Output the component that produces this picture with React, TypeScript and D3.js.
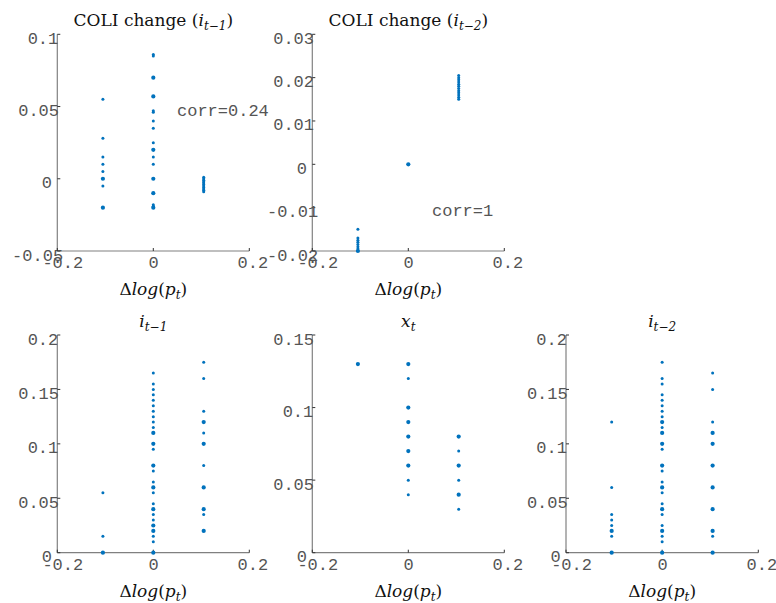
import React from "react";
import * as d3 from "d3";

// x positions of the three price-change groups
const X_COLS = [-0.105, 0, 0.105];
const X_TICKS = [-0.2, 0, 0.2];
const X_TICK_LABELS = ["-0.2", "0", "0.2"];

// Panel 1: COLI change (i_{t-1})
const P1_NEG = [0.055, 0.028, 0.015, 0.01, 0.005, 0, 0, -0.005, -0.02, -0.02];
const P1_ZERO = [0.085, 0.086, 0.07, 0.07, 0.057, 0.057, 0.046, 0.047, 0.04, 0.035, 0.025, 0.02, 0.02, 0.015, 0.01, 0, 0, -0.01, -0.01, -0.018, -0.019, -0.02, -0.02];
const P1_POS = [0.001, 0, -0.001, -0.002, -0.003, -0.004, -0.005, -0.006, -0.007, -0.008, -0.009];
const P1_TICKS = [-0.05, 0, 0.05, 0.1];
const P1_TICK_LABELS = ["-0.05", "0", "0.05", "0.1"];

// Panel 2: COLI change (i_{t-2})
const P2_NEG = [-0.015, -0.017, -0.0175, -0.018, -0.0185, -0.019, -0.0195, -0.02, -0.02];
const P2_ZERO = [0, 0, 0];
const P2_POS = [0.0205, 0.02, 0.0195, 0.019, 0.0185, 0.018, 0.0175, 0.017, 0.0165, 0.016, 0.0155, 0.015];
const P2_TICKS = [-0.02, -0.01, 0, 0.01, 0.02, 0.03];
const P2_TICK_LABELS = ["-0.02", "-0.01", "0", "0.01", "0.02", "0.03"];

// Panel 3: i_{t-1}
const P3_NEG = [0.055, 0.015, 0, 0];
const P3_ZERO = [0.165, 0.155, 0.15, 0.145, 0.14, 0.135, 0.13, 0.125, 0.12, 0.115, 0.11, 0.11, 0.1, 0.1, 0.095, 0.08, 0.08, 0.075, 0.065, 0.06, 0.06, 0.055, 0.045, 0.04, 0.04, 0.035, 0.03, 0.025, 0.025, 0.02, 0.02, 0.015, 0.01, 0, 0];
const P3_POS = [0.175, 0.16, 0.13, 0.12, 0.12, 0.11, 0.1, 0.1, 0.08, 0.06, 0.06, 0.04, 0.04, 0.035, 0.02, 0.02];
const P3_TICKS = [0, 0.05, 0.1, 0.15, 0.2];
const P3_TICK_LABELS = ["0", "0.05", "0.1", "0.15", "0.2"];

// Panel 4: x_t
const P4_NEG = [0.13, 0.13];
const P4_ZERO = [0.13, 0.13, 0.12, 0.1, 0.1, 0.09, 0.09, 0.08, 0.08, 0.07, 0.07, 0.06, 0.06, 0.05, 0.04];
const P4_POS = [0.08, 0.08, 0.07, 0.06, 0.06, 0.05, 0.04, 0.04, 0.03];
const P4_TICKS = [0, 0.05, 0.1, 0.15];
const P4_TICK_LABELS = ["0", "0.05", "0.1", "0.15"];

// Panel 5: i_{t-2}
const P5_NEG = [0.12, 0.06, 0.035, 0.03, 0.025, 0.02, 0.02, 0.015, 0, 0];
const P5_ZERO = [0.175, 0.16, 0.155, 0.145, 0.14, 0.135, 0.13, 0.125, 0.12, 0.12, 0.115, 0.11, 0.11, 0.1, 0.1, 0.095, 0.08, 0.08, 0.075, 0.065, 0.06, 0.06, 0.055, 0.045, 0.04, 0.04, 0.035, 0.025, 0.02, 0.02, 0.015, 0.01, 0, 0];
const P5_POS = [0.165, 0.15, 0.12, 0.11, 0.11, 0.1, 0.1, 0.08, 0.08, 0.06, 0.06, 0.04, 0.04, 0.02, 0.02, 0.015, 0, 0];
const P5_TICKS = [0, 0.05, 0.1, 0.15, 0.2];
const P5_TICK_LABELS = ["0", "0.05", "0.1", "0.15", "0.2"];

const DOT = "#0072BD";
const AXIS = "#808080";
const TXT = "#555555";
const MONO = "'Liberation Mono', 'DejaVu Sans Mono', monospace";
const SERIF = "'DejaVu Serif', 'Liberation Serif', serif";

// approximate proportional (Helvetica) widths used by the original label placement
const HW: Record<string, number> = { ".": 0.278, "-": 0.36 };
const helvWidth = (s: string, size = 17) =>
  s.split("").reduce((a, c) => a + (HW[c] ?? 0.556), 0) * size;

type PanelProps = {
  left: number; right: number; top: number; bottom: number;
  yDomain: [number, number];
  yTicks: number[]; yTickLabels: string[];
  cols: number[][];
  title: React.ReactNode;
  corr?: { text: string; x: number; y: number };
};

function Panel(p: PanelProps) {
  const x = d3.scaleLinear().domain([-0.2, 0.2]).range([p.left, p.right]);
  const y = d3.scaleLinear().domain(p.yDomain).range([p.bottom, p.top]);
  const pts: { x: number; y: number; n: number }[] = [];
  p.cols.forEach((col, i) => {
    const counts = d3.rollup(col, (v) => v.length, (v) => v);
    counts.forEach((n, v) => pts.push({ x: X_COLS[i], y: v, n }));
  });
  const cx = (p.left + p.right) / 2;
  return (
    <g>
      {/* axes */}
      <line x1={p.left} x2={p.left} y1={p.top} y2={p.bottom} stroke={AXIS} strokeWidth={1.2} />
      <line x1={p.left} x2={p.right} y1={p.bottom} y2={p.bottom} stroke={AXIS} strokeWidth={1.2} />
      {p.yTicks.map((t, i) => (
        <g key={"y" + i}>
          <line x1={p.left} x2={p.left + 3} y1={y(t)} y2={y(t)} stroke="#333" strokeWidth={1} />
          <text x={p.left - 6 - helvWidth(p.yTickLabels[i])} y={y(t) + 9.5} fontFamily={MONO} fontSize={17} fill={TXT}>
            {p.yTickLabels[i]}
          </text>
        </g>
      ))}
      {X_TICKS.map((t, i) => (
        <g key={"x" + i}>
          <line x1={x(t)} x2={x(t)} y1={p.bottom} y2={p.bottom - 3} stroke="#333" strokeWidth={1} />
          <text x={x(t) - helvWidth(X_TICK_LABELS[i]) / 2} y={p.bottom + 17} fontFamily={MONO} fontSize={17} fill={TXT}>
            {X_TICK_LABELS[i]}
          </text>
        </g>
      ))}
      {/* points */}
      {pts.map((d, i) => (
        <circle key={i} cx={x(d.x)} cy={y(d.y)} r={d.n > 1 ? 2.1 : 1.5} fill={DOT} />
      ))}
      {/* title */}
      <text x={cx} y={p.top - 8} textAnchor="middle" fontFamily={SERIF} fontSize={17} fill="#111">
        {p.title}
      </text>
      {/* x label */}
      <text x={cx} y={p.bottom + 44} textAnchor="middle" fontFamily={SERIF} fontSize={17} fill="#111">
        <tspan>Δ</tspan>
        <tspan fontStyle="italic">log</tspan>
        <tspan>(</tspan>
        <tspan fontStyle="italic">p</tspan>
        <tspan fontStyle="italic" fontSize={12} dy={4}>t</tspan>
        <tspan dy={-4}>)</tspan>
      </text>
      {p.corr && (
        <text x={p.corr.x} y={p.corr.y} fontFamily={MONO} fontSize={17} fill={TXT}>
          {p.corr.text}
        </text>
      )}
    </g>
  );
}

const sub = (base: string, s: string, close = "") => (
  <>
    <tspan fontStyle="italic">{base}</tspan>
    <tspan fontStyle="italic" fontSize={12} dy={4}>{s}</tspan>
    {close ? <tspan dy={-4}>{close}</tspan> : null}
  </>
);

export default function App() {
  return (
    <svg width={776} height={603} style={{ position: "absolute", left: 0, top: 0, background: "#fff" }}>
      <rect width={776} height={603} fill="#fff" />
      <Panel left={57.3} right={249.3} top={34.3} bottom={251} yDomain={[-0.05, 0.1]}
        yTicks={P1_TICKS} yTickLabels={P1_TICK_LABELS} cols={[P1_NEG, P1_ZERO, P1_POS]}
        title={<><tspan>COLI change (</tspan>{sub("i", "t−1", ")")}</>}
        corr={{ text: "corr=0.24", x: 177, y: 116 }} />
      <Panel left={312.3} right={504.3} top={34.3} bottom={251} yDomain={[-0.02, 0.03]}
        yTicks={P2_TICKS} yTickLabels={P2_TICK_LABELS} cols={[P2_NEG, P2_ZERO, P2_POS]}
        title={<><tspan>COLI change (</tspan>{sub("i", "t−2", ")")}</>}
        corr={{ text: "corr=1", x: 432, y: 216 }} />
      <Panel left={57.3} right={249.3} top={335} bottom={552.7} yDomain={[0, 0.2]}
        yTicks={P3_TICKS} yTickLabels={P3_TICK_LABELS} cols={[P3_NEG, P3_ZERO, P3_POS]}
        title={sub("i", "t−1")} />
      <Panel left={312.3} right={504.3} top={335} bottom={552.7} yDomain={[0, 0.15]}
        yTicks={P4_TICKS} yTickLabels={P4_TICK_LABELS} cols={[P4_NEG, P4_ZERO, P4_POS]}
        title={sub("x", "t")} />
      <Panel left={566} right={758.3} top={335} bottom={552.7} yDomain={[0, 0.2]}
        yTicks={P5_TICKS} yTickLabels={P5_TICK_LABELS} cols={[P5_NEG, P5_ZERO, P5_POS]}
        title={sub("i", "t−2")} />
    </svg>
  );
}
